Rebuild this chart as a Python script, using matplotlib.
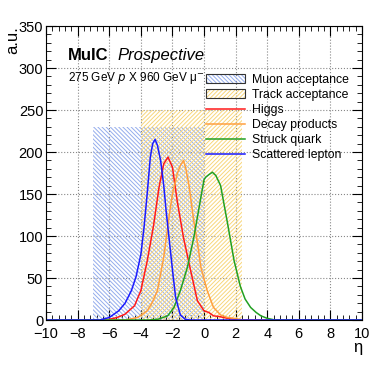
import matplotlib
matplotlib.use("Agg")
import matplotlib.pyplot as plt
from matplotlib.patches import Rectangle, Patch
from matplotlib.lines import Line2D
from matplotlib.legend_handler import HandlerBase
from matplotlib.ticker import MultipleLocator

plt.rcParams['font.family'] = ['Liberation Sans', 'DejaVu Sans']
plt.rcParams['hatch.linewidth'] = 0.7

# acceptance regions: (eta min, eta max, height)
muon_acc = (-7.0, 0.0, 230)
track_acc = (-4.0, 2.4, 250)

# eta distributions
lep_eta = [-10, -6.6, -6.0, -5.4, -5.0, -4.6, -4.3, -4.0, -3.8, -3.6, -3.4, -3.25, -3.1,
           -2.95, -2.75, -2.55, -2.4, -2.2, -2.0, -1.8, -1.5, -1.2, -0.9, 10]
lep_val = [0, 0, 3, 11, 20, 35, 52, 78, 110, 150, 194, 210, 215,
           208, 190, 160, 130, 95, 60, 27, 6, 1, 0, 0]

higgs_eta = [-10, -6.2, -5.5, -5.0, -4.4, -4.0, -3.6, -3.2, -2.85, -2.55, -2.28, -2.0, -1.7,
             -1.3, -0.85, -0.42, 0.0, 0.3, 0.6, 1.0, 1.5, 2.3, 10]
higgs_val = [0, 0, 3, 7, 17, 35, 70, 112, 158, 186, 194, 182, 142,
             98, 59, 23, 11, 9, 5, 4, 2, 0, 0]

decay_eta = [-10, -5.0, -4.2, -3.6, -3.3, -2.95, -2.55, -2.2, -2.0, -1.7, -1.5, -1.3, -1.15,
             -0.95, -0.65, -0.4, -0.2, 0.2, 0.6, 1.05, 1.5, 1.9, 2.5, 10]
decay_val = [0, 0, 3, 11, 20, 35, 75, 125, 150, 174, 184, 190, 180,
             160, 118, 90, 63, 35, 15, 6, 3, 2, 0, 0]

quark_eta = [-10, -3.5, -2.9, -2.3, -1.9, -1.5, -1.05, -0.65, -0.2, 0.0, 0.1, 0.3, 0.53,
             0.75, 1.05, 1.5, 1.9, 2.3, 2.6, 2.95, 3.3, 3.6, 4.0, 4.5, 10]
quark_val = [0, 0, 1, 5, 15, 35, 63, 98, 146, 167, 170, 173, 176,
             172, 160, 114, 71, 40, 25, 15, 9, 5, 2, 0, 0]

muon_col = '#94acec'
track_col = '#f8d67a'
muon_hatch = '\\' * 8
track_hatch = '/' * 8


class HatchBoxHandler(HandlerBase):
    def create_artists(self, legend, orig_handle, xdescent, ydescent, width, height, fontsize, trans):
        hatch = Rectangle((-xdescent, -ydescent), width, height, facecolor='none',
                          edgecolor=orig_handle.get_edgecolor(), hatch=orig_handle.get_hatch(),
                          linewidth=0, transform=trans)
        frame = Rectangle((-xdescent, -ydescent), width, height, facecolor='none',
                          edgecolor='#333333', linewidth=0.8, transform=trans)
        return [hatch, frame]


fig = plt.figure(figsize=(3.81, 3.67), dpi=100)
ax = fig.add_axes([0.121, 0.128, 0.829, 0.801])

ax.add_patch(Rectangle((muon_acc[0], 0), muon_acc[1] - muon_acc[0], muon_acc[2],
                       facecolor='none', edgecolor=muon_col, hatch=muon_hatch, linewidth=0))
ax.add_patch(Rectangle((track_acc[0], 0), track_acc[1] - track_acc[0], track_acc[2],
                       facecolor='none', edgecolor=track_col, hatch=track_hatch, linewidth=0))

ax.plot(higgs_eta, higgs_val, color='#ff1a1a', lw=1.1)
ax.plot(decay_eta, decay_val, color='#ffa040', lw=1.1)
ax.plot(quark_eta, quark_val, color='#22a022', lw=1.1)
ax.plot(lep_eta, lep_val, color='#1a1aff', lw=1.1)

ax.set_xlim(-10, 10)
ax.set_ylim(0, 350)
ax.xaxis.set_major_locator(MultipleLocator(2))
ax.xaxis.set_minor_locator(MultipleLocator(0.4))
ax.yaxis.set_major_locator(MultipleLocator(50))
ax.yaxis.set_minor_locator(MultipleLocator(10))
ax.tick_params(which='both', direction='in', top=True, right=True, labelsize=10.5)
ax.tick_params(axis='y', pad=2)
ax.tick_params(axis='x', pad=5)
ax.tick_params(which='major', length=7)
ax.tick_params(which='minor', length=3.5)
ax.grid(True, which='major', linestyle=':', color='#888888', linewidth=0.8)
ax.set_axisbelow(True)

ax.set_ylabel('a.u.', fontsize=12, loc='top', labelpad=-1)
ax.set_xlabel('η', fontsize=12, loc='right', labelpad=-1)

ax.text(0.07, 0.9, 'MuIC', transform=ax.transAxes, fontsize=12, fontweight='bold', va='center')
ax.text(0.225, 0.9, 'Prospective', transform=ax.transAxes, fontsize=12, style='italic', va='center')
ax.text(0.07, 0.822, '275 GeV $p$ X 960 GeV μ$^{-}$', transform=ax.transAxes, fontsize=8.5, va='center')

handles = [Patch(facecolor='none', edgecolor=muon_col, hatch=muon_hatch),
           Patch(facecolor='none', edgecolor=track_col, hatch=track_hatch),
           Line2D([], [], color='#ff1a1a', lw=1.1),
           Line2D([], [], color='#ffa040', lw=1.1),
           Line2D([], [], color='#22a022', lw=1.1),
           Line2D([], [], color='#1a1aff', lw=1.1)]
labels = ['Muon acceptance', 'Track acceptance', 'Higgs', 'Decay products',
          'Struck quark', 'Scattered lepton']
leg = ax.legend(handles, labels, loc='upper left', bbox_to_anchor=(0.49, 0.855),
                fontsize=8.8, frameon=False, handlelength=3.2, handleheight=0.75,
                handletextpad=0.55, labelspacing=0.26, borderaxespad=0,
                handler_map={Patch: HatchBoxHandler()})

fig.savefig('out.png', dpi=100)
